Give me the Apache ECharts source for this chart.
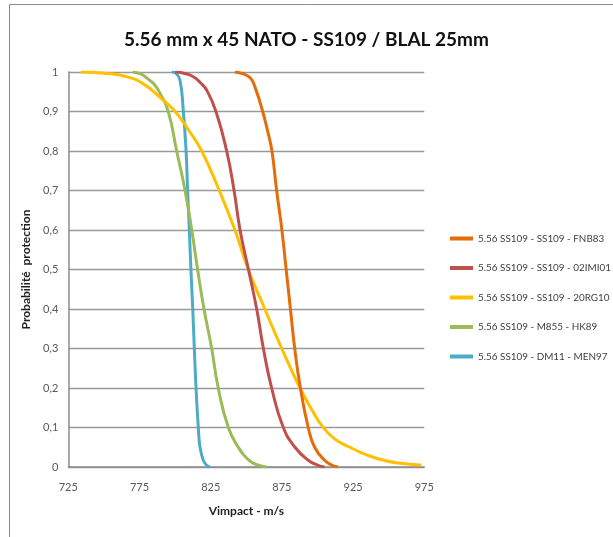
<!DOCTYPE html>
<html>
<head>
<meta charset="utf-8">
<script src="https://cdn.jsdelivr.net/npm/echarts@6/dist/echarts.min.js"></script>
<style>
html,body{margin:0;padding:0;background:#fff;}
#c{width:613px;height:537px;}
</style>
</head>
<body>
<div id="c"></div>
<script>
// Data
const titleText = '5.56 mm x 45 NATO - SS109 / BLAL 25mm';
const xTicks = [725, 775, 825, 875, 925, 975];
const yTicks = [0, 0.1, 0.2, 0.3, 0.4, 0.5, 0.6, 0.7, 0.8, 0.9, 1];

const seriesNames = [
  '5.56 SS109 - SS109 - FNB83',
  '5.56 SS109 - SS109 - 02IMI01',
  '5.56 SS109 - SS109 - 20RG10',
  '5.56 SS109 - M855 - HK89',
  '5.56 SS109 - DM11 - MEN97'
];

const fnb83V = [842, 848, 853, 856, 861.5, 865, 868, 871.3, 875, 878, 881, 884, 888, 893.5, 898, 905, 910, 914.5];
const fnb83P = [1, 0.995, 0.984, 0.963, 0.9, 0.85, 0.8, 0.7, 0.6, 0.5, 0.4, 0.3, 0.2, 0.1, 0.05, 0.017, 0.005, 0];

const imi01V = [800, 806, 812.8, 818, 822.2, 828.7, 836.2, 841.4, 845.6, 851.5, 857.3, 862, 867.8, 876, 884.2, 893.5, 900, 905];
const imi01P = [1, 0.997, 0.988, 0.972, 0.954, 0.9, 0.8, 0.7, 0.6, 0.5, 0.4, 0.3, 0.2, 0.1, 0.05, 0.017, 0.005, 0];

const rg10V = [733.7, 750, 766, 777.7, 789.4, 800, 810, 818.7, 831, 842, 851.4, 863, 874.9, 887.7, 896, 904, 912.5, 922.8, 935, 948.6, 960, 973];
const rg10P = [1, 0.997, 0.988, 0.97, 0.936, 0.9, 0.85, 0.8, 0.7, 0.6, 0.5, 0.4, 0.3, 0.2, 0.145, 0.1, 0.07, 0.05, 0.03, 0.015, 0.009, 0.005];

const hk89V = [770.2, 776, 780, 785, 789.4, 795.2, 801.1, 807, 811.7, 815.8, 820.3, 825.7, 830.3, 837.4, 844.4, 852, 858, 864.3];
const hk89P = [1, 0.995, 0.985, 0.97, 0.946, 0.9, 0.8, 0.7, 0.6, 0.5, 0.4, 0.3, 0.2, 0.1, 0.05, 0.017, 0.005, 0];

const men97V = [797.6, 800.5, 803.4, 805.8, 807.7, 808.8, 810, 811.1, 812.4, 813.5, 814.7, 816.3, 817.5, 819.8, 822, 824.5];
const men97P = [1, 0.997, 0.98, 0.9, 0.8, 0.7, 0.6, 0.5, 0.4, 0.3, 0.2, 0.1, 0.05, 0.017, 0.005, 0];

const colors = ['#E46C0A', '#C0504D', '#FFC000', '#9BBB59', '#4BACC6'];

const seriesVs = [fnb83V, imi01V, rg10V, hk89V, men97V];
const seriesPs = [fnb83P, imi01P, rg10P, hk89P, men97P];

const FONT = 'Lato, "Liberation Sans", sans-serif';

function pairs(v, p) { return v.map((x, i) => [x, p[i]]); }

const chart = echarts.init(document.getElementById('c'), null, {renderer: 'canvas'});
chart.setOption({
  animation: false,
  backgroundColor: '#ffffff',
  textStyle: {fontFamily: FONT},
  title: {
    text: titleText,
    left: 'center',
    top: 25,
    textStyle: {fontFamily: FONT, fontSize: 19, fontWeight: 'bold', color: '#111'}
  },
  graphic: [{
    type: 'rect',
    shape: {x: 9.5, y: 4.5, width: 700, height: 600},
    style: {fill: 'none', stroke: '#8c8c8c', lineWidth: 1},
    silent: true, z: -1
  }],
  grid: {left: 68.3, right: 613 - 424.3, top: 72, bottom: 537 - 467, containLabel: false},
  legend: {
    orient: 'vertical',
    left: 450,
    top: 231.5,
    padding: 0,
    itemWidth: 23,
    itemHeight: 4,
    itemGap: 15.5,
    icon: 'rect',
    textStyle: {fontFamily: FONT, fontSize: 9.9, color: '#404040', lineHeight: 14},
    data: seriesNames
  },
  xAxis: {
    type: 'value',
    min: xTicks[0],
    max: xTicks[xTicks.length - 1],
    interval: 50,
    name: 'Vimpact - m/s',
    nameLocation: 'middle',
    nameGap: 38,
    nameTextStyle: {fontFamily: FONT, fontSize: 12, fontWeight: 'bold', color: '#222'},
    axisLine: {show: true, lineStyle: {color: '#8c8c8c', width: 1.5}},
    axisTick: {show: false},
    splitLine: {show: false},
    axisLabel: {margin: 15, fontSize: 11, color: '#595959', fontFamily: FONT}
  },
  yAxis: {
    type: 'value',
    min: 0,
    max: 1,
    interval: 0.1,
    name: 'Probabilité  protection',
    nameLocation: 'middle',
    nameRotate: 90,
    nameGap: 25,
    nameTextStyle: {fontFamily: FONT, fontSize: 12, fontWeight: 'bold', color: '#222'},
    axisLine: {show: true, lineStyle: {color: '#8c8c8c', width: 1.5}},
    axisTick: {show: false},
    splitLine: {show: true, lineStyle: {color: '#999999', width: 1.3}},
    axisLabel: {
      margin: 10, fontSize: 11, color: '#595959', fontFamily: FONT,
      formatter: v => String(Math.round(v * 10) / 10).replace('.', ',')
    }
  },
  series: seriesNames.map((n, i) => ({
    name: n,
    type: 'line',
    data: pairs(seriesVs[i], seriesPs[i]),
    smooth: 0.5,
    showSymbol: false,
    symbol: 'none',
    color: colors[i],
    lineStyle: {width: 3, color: colors[i]},
    itemStyle: {color: colors[i]},
    z: 10 - i
  }))
});
</script>
</body>
</html>
